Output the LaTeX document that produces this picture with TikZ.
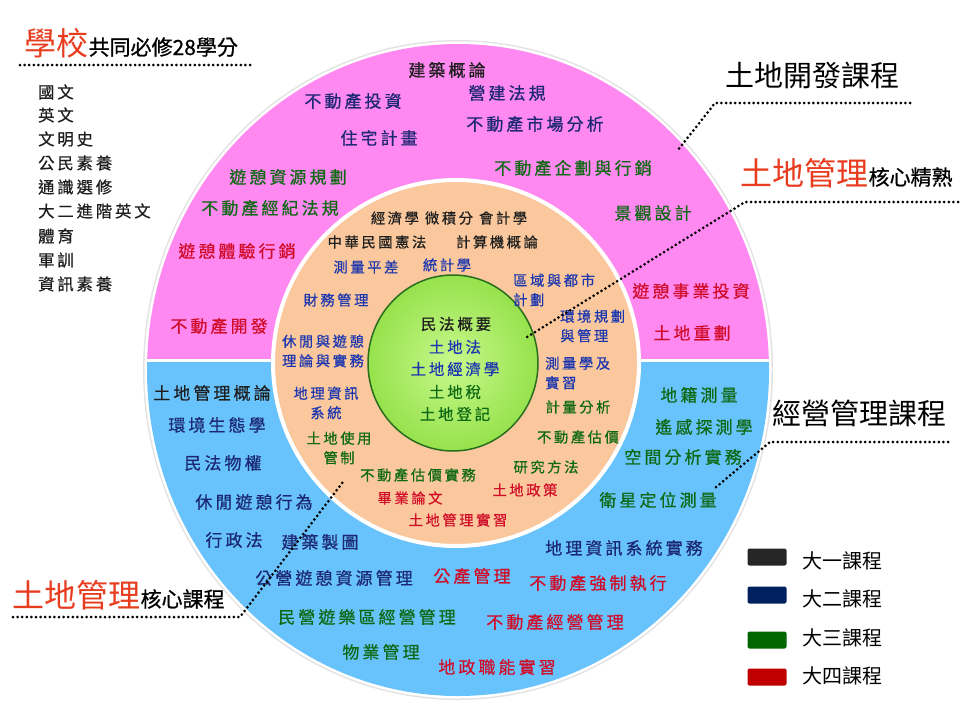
\documentclass[tikz,border=0pt]{standalone}
\usepackage{fontspec}
\newfontfamily\kai[LetterSpace=18, FakeBold=0.6]{Noto Sans CJK TC}
\newfontfamily\ming{Noto Sans CJK TC}
\newfontfamily\mingb[FakeBold=0.8]{Noto Sans CJK TC}
\definecolor{pinkc}{RGB}{255,137,241}
\definecolor{bluec}{RGB}{104,195,252}
\definecolor{orangec}{RGB}{250,200,156}
\definecolor{greenin}{RGB}{200,248,140}
\definecolor{greenout}{RGB}{150,226,76}
\definecolor{greenedge}{RGB}{40,110,30}
\definecolor{c1}{RGB}{30,30,30}
\definecolor{c2}{RGB}{28,40,115}
\definecolor{c2b}{RGB}{28,55,175}
\definecolor{c3}{RGB}{14,105,20}
\definecolor{c4}{RGB}{208,12,40}
\definecolor{hred}{RGB}{232,60,30}
\definecolor{lg1}{RGB}{38,38,38}
\definecolor{lg2}{RGB}{0,32,96}
\definecolor{lg3}{RGB}{0,102,0}
\definecolor{lg4}{RGB}{192,0,0}
\begin{document}
\begin{tikzpicture}[x=1pt,y=-1pt,
  outer/.style={inner sep=0pt, font=\kai\fontsize{17}{20}\selectfont},
  ring/.style={inner sep=0pt, font=\kai\fontsize{14.3}{19.5}\selectfont},
  core/.style={inner sep=0pt, font=\kai\fontsize{15.5}{21}\selectfont},
  lst/.style={inner sep=0pt, anchor=west, text=c1, font=\kai\fontsize{16.3}{20}\selectfont},
  ya/.style={text=c1}, yb/.style={text=c2}, ybb/.style={text=c2b},
  yc/.style={text=c3}, yd/.style={text=c4},
  bigred/.style={inner sep=0pt, anchor=base west, text=hred, font=\ming\fontsize{32}{32}\selectfont},
  smallblk/.style={inner sep=0pt, anchor=base west, text=black, font=\mingb\fontsize{21}{21}\selectfont},
  title/.style={inner sep=0pt, text=black, font=\ming\fontsize{29}{29}\selectfont},
  leader/.style={draw=black, line width=3pt, line cap=round, dash pattern=on 0pt off 4.6pt},
  legbox/.style={minimum width=39pt, minimum height=17pt, inner sep=0pt, rounded corners=2pt},
  legtext/.style={inner sep=0pt, anchor=west, text=black, font=\ming\fontsize{20}{20}\selectfont}]
\useasboundingbox (0,0) rectangle (960,720);
\fill[white] (0,0) rectangle (960,720);

% ---------- rings ----------
\fill[gray!22] (458,370) ellipse [x radius=315pt, y radius=330pt];
\fill[white] (458,370) ellipse [x radius=313.5pt, y radius=328.5pt];
\begin{scope}
  \clip (0,0) rectangle (960,358);
  \fill[pinkc] (458,370) ellipse [x radius=311pt, y radius=326pt];
\end{scope}
\begin{scope}
  \clip (0,362.5) rectangle (960,720);
  \fill[bluec] (458,370) ellipse [x radius=311pt, y radius=326pt];
\end{scope}
\filldraw[fill=orangec, draw=white, line width=4pt] (456,363) circle [radius=183pt];
\shade[inner color=greenin, outer color=greenout] (453,363) ellipse [x radius=85pt, y radius=88pt];
\draw[greenedge, line width=1.5pt] (453,363) ellipse [x radius=85pt, y radius=88pt];

% ---------- header ----------
\node[bigred] (hdA) at (24,55) {學校};
\node[smallblk] (hdB) at (hdA.base east) {共同必修28學分};
\coordinate (H1a) at (20,65);
\coordinate (H1b) at (252,65);
\draw[leader] (H1a) -- (H1b);

\node[lst] (l1) at (38,92) {國文};
\node[lst] (l2) at (38,115) {英文};
\node[lst] (l3) at (38,139) {文明史};
\node[lst] (l4) at (38,163) {公民素養};
\node[lst] (l5) at (38,187) {通識選修};
\node[lst] (l6) at (38,211) {大二進階英文};
\node[lst] (l7) at (38,236) {體育};
\node[lst] (l8) at (38,260) {軍訓};
\node[lst] (l9) at (38,284) {資訊素養};

% ---------- pink (land development) ----------
\node[outer,ya] (p1) at (447,70) {建築概論};
\node[outer,yb] (p2) at (353,101) {不動產投資};
\node[outer,yb] (p3) at (507,93) {營建法規};
\node[outer,yb] (p4) at (535,124) {不動產市場分析};
\node[outer,yb] (p5) at (379,138) {住宅計畫};
\node[outer,yc] (p6) at (573,168) {不動產企劃與行銷};
\node[outer,yc] (p7) at (288,177) {遊憩資源規劃};
\node[outer,yc] (p8) at (270,208) {不動產經紀法規};
\node[outer,yc] (p9) at (653,213) {景觀設計};
\node[outer,yd] (p10) at (237,251) {遊憩體驗行銷};
\node[outer,yd] (p11) at (691,291) {遊憩事業投資};
\node[outer,yd] (p12) at (219,326) {不動產開發};
\node[outer,yd] (p13) at (692,333) {土地重劃};

% ---------- orange ring ----------
\node[ring,ya] (r1) at (449,218) {經濟學\hspace{6pt}微積分\hspace{6pt}會計學};
\node[ring,ya] (r2) at (377,242) {中華民國憲法};
\node[ring,ya] (r3) at (497,242) {計算機概論};
\node[ring,ybb] (r4) at (366,267) {測量平差};
\node[ring,ybb] (r5) at (447,265) {統計學};
\node[ring,ybb] (r6) at (336,300) {財務管理};
\node[ring,ybb,align=left] (r7) at (323,351) {休閒與遊憩\\理論與實務};
\node[ring,ybb,align=left,anchor=west] (r8) at (513,290) {區域與都市\\計劃};
\node[ring,ybb,align=left,anchor=west] (r9) at (560,326) {環境規劃\\與管理};
\node[ring,ybb,align=left,anchor=west] (r10) at (545,373) {測量學及\\實習};
\node[ring,ybb,align=center] (r11) at (326,403) {地理資訊\\系統};
\node[ring,yc,align=center] (r12) at (339,448) {土地使用\\管制};
\node[ring,yc] (r13) at (578,407) {計量分析};
\node[ring,yc] (r14) at (578,437) {不動產估價};
\node[ring,yc] (r15) at (546,467) {研究方法};
\node[ring,yc] (r16) at (418,475) {不動產估價實務};
\node[ring,yd] (r17) at (525,490) {土地政策};
\node[ring,yd] (r18) at (410,498) {畢業論文};
\node[ring,yd] (r19) at (458,520) {土地管理實習};

% ---------- green core ----------
\node[core,ya] (k1) at (456,324) {民法概要};
\node[core,ybb] (k2) at (455,347) {土地法};
\node[core,ybb] (k3) at (455,369) {土地經濟學};
\node[core,yc] (k4) at (455,392) {土地稅};
\node[core,yc] (k5) at (455,414) {土地登記};

% ---------- blue (management) ----------
\node[outer,ya] (b1) at (212,393) {土地管理概論};
\node[outer,yb] (b2) at (217,425) {環境生態學};
\node[outer,yb] (b3) at (223,463) {民法物權};
\node[outer,yb] (b4) at (254,502) {休閒遊憩行為};
\node[outer,yb] (b5) at (234,540) {行政法};
\node[outer,yb] (b6) at (320,542) {建築製圖};
\node[outer,yb] (b7) at (334,578) {公營遊憩資源管理};
\node[outer,yd] (b8) at (472,576) {公產管理};
\node[outer,yc] (b9) at (367,617) {民營遊樂區經營管理};
\node[outer,yc] (b10) at (381,652) {物業管理};
\node[outer,yd] (b11) at (497,667) {地政職能實習};
\node[outer,yd] (b12) at (555,622) {不動產經營管理};
\node[outer,yd] (b13) at (598,583) {不動產強制執行};
\node[outer,yb] (b14) at (624,548) {地理資訊系統實務};
\node[outer,yc] (b15) at (699,395) {地籍測量};
\node[outer,yc] (b16) at (704,427) {遙感探測學};
\node[outer,yc] (b17) at (683,457) {空間分析實務};
\node[outer,yc] (b18) at (658,500) {衛星定位測量};

% ---------- right titles and leaders ----------
\node[title] (t1) at (812,75) {土地開發課程};
\coordinate (L1a) at (910,103);
\coordinate (L1b) at (715,103);
\coordinate (L1c) at (678,150);
\draw[leader] (L1a) -- (L1b) -- (L1c);

\node[bigred] (t2a) at (740,185) {土地管理};
\node[smallblk] (t2b) at (t2a.base east) {核心精熟};
\coordinate (L2a) at (958,202);
\coordinate (L2b) at (745,202);
\coordinate (L2c) at (527,337);
\draw[leader] (L2a) -- (L2b) -- (L2c);

\node[title] (t3) at (859,413) {經營管理課程};
\coordinate (L3a) at (948,442);
\coordinate (L3b) at (770,442);
\coordinate (L3c) at (715,488);
\draw[leader] (L3a) -- (L3b) -- (L3c);

\node[bigred] (t4a) at (12,607) {土地管理};
\node[smallblk] (t4b) at (t4a.base east) {核心課程};
\coordinate (L4a) at (13,617);
\coordinate (L4b) at (240,617);
\coordinate (L4c) at (343,482);
\draw[leader] (L4a) -- (L4b) -- (L4c);

% ---------- legend ----------
\node[legbox, fill=lg1] (g1) at (767,557) {};
\node[legbox, fill=lg2] (g2) at (767,595) {};
\node[legbox, fill=lg3] (g3) at (767,640) {};
\node[legbox, fill=lg4] (g4) at (767,677) {};
\node[legtext] (gt1) at (802,561) {大一課程};
\node[legtext] (gt2) at (802,599) {大二課程};
\node[legtext] (gt3) at (802,638) {大三課程};
\node[legtext] (gt4) at (802,676) {大四課程};
\end{tikzpicture}
\end{document}
